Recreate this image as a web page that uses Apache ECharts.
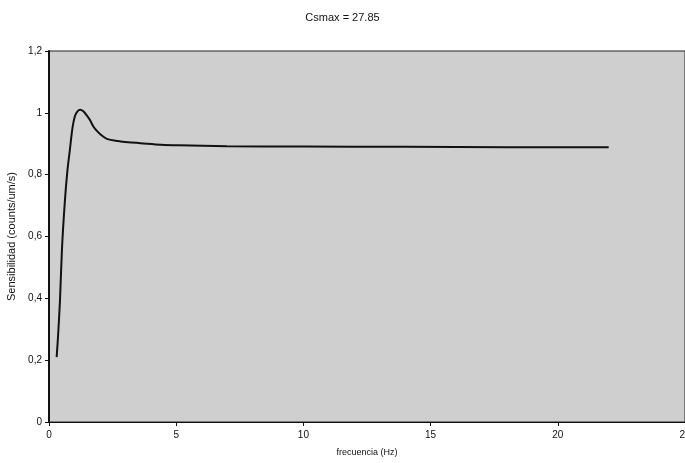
<!DOCTYPE html>
<html>
<head>
<meta charset="utf-8">
<script src="https://cdn.jsdelivr.net/npm/echarts@6/dist/echarts.min.js"></script>
<style>html,body{margin:0;padding:0;background:#fff}#c{width:685px;height:463px}</style>
</head>
<body>
<div id="c"></div>
<script>
var titleText = 'Csmax = 27.85';
var xName = 'frecuencia (Hz)';
var yName = 'Sensibilidad (counts/um/s)';
var freq = [0.3, 0.35, 0.43, 0.51, 0.62, 0.72, 0.82, 0.92, 1.02, 1.12, 1.22, 1.35, 1.5, 1.62, 1.75, 1.9, 2.1, 2.3, 2.7, 3.1, 3.6, 4.4, 5.1, 7, 10, 14, 18, 22];
var sens = [0.21, 0.27, 0.39, 0.56, 0.71, 0.81, 0.88, 0.95, 0.99, 1.005, 1.01, 1.005, 0.99, 0.975, 0.955, 0.94, 0.925, 0.915, 0.909, 0.905, 0.902, 0.897, 0.895, 0.892, 0.891, 0.89, 0.889, 0.889];

var data = freq.map(function (f, i) { return [f, sens[i]]; });
var chart = echarts.init(document.getElementById('c'), null, {renderer: 'canvas'});
var font = 'Liberation Sans';
chart.setOption({
  animation: false,
  backgroundColor: '#ffffff',
  title: {
    text: titleText, left: 'center', top: 7,
    textStyle: {fontFamily: font, fontSize: 11, fontWeight: 'normal', color: '#111'}
  },
  grid: {
    left: 49, right: 0, top: 51, bottom: 41,
    containLabel: false, outerBoundsMode: 'none',
    show: true, backgroundColor: '#cfcfcf', borderColor: '#222', borderWidth: 1
  },
  xAxis: {
    type: 'value', min: 0, max: 25, interval: 5,
    name: xName, nameLocation: 'middle', nameGap: 26,
    nameTextStyle: {fontFamily: font, fontSize: 9, color: '#111'},
    axisLine: {lineStyle: {color: '#111', width: 1}},
    axisTick: {show: true, length: 4, lineStyle: {color: '#111'}},
    axisLabel: {fontFamily: font, fontSize: 10, color: '#111', margin: 8,
      formatter: function (v) { return String(v); }},
    splitLine: {show: false}
  },
  yAxis: {
    type: 'value', min: 0, max: 1.2, interval: 0.2,
    name: yName, nameLocation: 'middle', nameGap: 30, nameRotate: 90,
    nameTextStyle: {fontFamily: font, fontSize: 11, color: '#111'},
    axisLine: {show: true, lineStyle: {color: '#111', width: 2}},
    axisTick: {show: true, length: 4, lineStyle: {color: '#111'}},
    axisLabel: {fontFamily: font, fontSize: 10, color: '#111', margin: 7,
      formatter: function (v) { return String(Math.round(v * 10) / 10).replace('.', ','); }},
    splitLine: {show: false}
  },
  series: [{
    type: 'line', data: data, smooth: 0.3, showSymbol: false,
    lineStyle: {color: '#111', width: 2}
  }]
});
</script>
</body>
</html>
